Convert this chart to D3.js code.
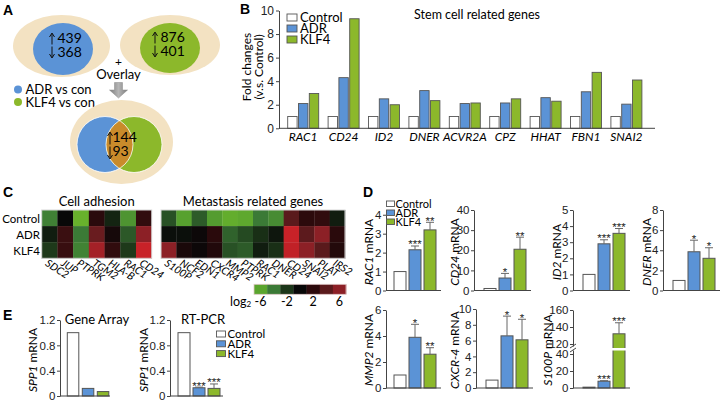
<!DOCTYPE html>
<html>
<head>
<meta charset="utf-8">
<script src="https://cdn.jsdelivr.net/npm/d3@7"></script>
<style>
body { margin: 0; background: #fff; }
svg { font-family: Lato, "Liberation Sans", Arial, sans-serif; }
</style>
</head>
<body>
<div id="chart"></div>
<script>
// shared
const groups = ["Control", "ADR", "KLF4"];
const colors = ["#ffffff", "#5b93d6", "#8cb82b"];

// A - venn counts
const vennLabels = ["ADR vs con", "KLF4 vs con"];
const vennUp = [439, 876, 144];
const vennDown = [368, 401, 93];

// B - stem cell genes (fold change vs control)
const stemGenes = ["RAC1", "CD24", "ID2", "DNER", "ACVR2A", "CPZ", "HHAT", "FBN1", "SNAI2"];
const stemControl = [1, 1, 1, 1, 1, 1, 1, 1, 1];
const stemADR = [2.1, 4.3, 2.5, 3.2, 2.1, 2.15, 2.6, 3.1, 2.05];
const stemKLF4 = [2.95, 9.3, 2.0, 2.35, 2.15, 2.5, 2.3, 4.75, 4.1];
const stemTicks = [0, 2, 4, 6, 8, 10];

// C - heatmaps (log2)
const heatRows = ["Control", "ADR", "KLF4"];
const adhesionGenes = ["SDC2", "JUP", "PTPRK", "TGM2", "HLA-B", "RAC1", "CD24"];
const adhesionLog2 = [
    [-4.3, 0, -6.8, 1.9, -1.2, -5.2, 2.2],
    [-0.9, 2.6, -4.0, 4.6, 0.8, -3.0, 6.0],
    [-2.1, 2.5, -4.4, 7.0, 2.2, -2.1, 8.5]
];
const metaGenes = ["S100P", "NCF2", "EDN1", "CXCR4", "MMP2", "PTPRK", "RAC1", "DNER", "CD24", "SNAI2", "PLAT", "IRS2"];
const metaLog2 = [
    [-2.8, -5.8, -3.1, -5.6, -6.5, -6.2, -4.0, -4.8, 4.0, 2.0, 2.2, -0.9],
    [-0.3, -0.3, 0.3, 1.9, -3.3, -2.6, -1.7, -0.6, 8.5, 4.1, 6.0, 1.9],
    [6.0, 1.0, 0.3, 1.4, -2.8, -3.1, -0.9, -1.7, 8.2, 6.0, 4.0, 1.5]
];
const legendSteps = [-6, -4, -2, 0, 2, 4, 6];
const legendLabels = [-6, -2, 2, 6];

// D - qPCR
const qGenes = ["RAC1", "CD24", "ID2", "DNER", "MMP2", "CXCR-4", "S100P"];
const qControl = [1, 1, 1, 1, 1, 1, 1];
const qADR = [2.15, 6.2, 2.9, 3.85, 3.9, 6.6, 8];
const qKLF4 = [3.2, 20.5, 3.55, 3.2, 2.6, 6.1, 132];
const qADRErr = [0.2, 2.3, 0.25, 1.15, 1.0, 2.5, 0.6];
const qKLF4Err = [0.4, 6, 0.3, 1.05, 0.5, 2.6, 13];
const qADRSig = ["***", "*", "***", "*", "*", "*", "***"];
const qKLF4Sig = ["**", "**", "***", "*", "**", "*", "***"];
const qTicks = [[0, 1, 2, 3, 4], [0, 10, 20, 30, 40], [0, 1, 2, 3, 4, 5], [0, 2, 4, 6, 8],
    [0, 2, 4, 6], [0, 2, 4, 6, 8, 10], [0, 20, 40, 120, 140, 160]];

// E - SPP1
const sppArray = [1, 0.12, 0.07];
const sppPCR = [1, 0.13, 0.12];
const sppPCRErr = [0, 0.01, 0.07];
const sppPCRSig = ["", "***", "***"];
const sppTicks = [0, 0.4, 0.8, 1.2];

const svg = d3.select("#chart").append("svg")
    .attr("width", 726).attr("height", 401);
svg.append("rect").attr("width", 726).attr("height", 401).attr("fill", "#fff");
const defs = svg.append("defs");

function panelLetter(t, x, y) {
    svg.append("text").attr("x", x).attr("y", y).attr("font-size", 14)
        .attr("font-weight", "bold").attr("font-family", "Liberation Sans, Arial, sans-serif").text(t);
}

// ---------- A ----------
panelLetter("A", 3, 15);
const beige = "#f3e2c2";
const gA = svg.append("g");

function vArrows(x, yTop, yBot) {
    const mid = (yTop + yBot) / 2;
    gA.append("path").attr("d", `M${x},${mid - 1}V${yTop + 1}M${x - 2.5},${yTop + 4}L${x},${yTop}L${x + 2.5},${yTop + 4}`)
        .attr("stroke", "#111").attr("fill", "none").attr("stroke-width", 1);
    gA.append("path").attr("d", `M${x},${mid + 1}V${yBot - 1}M${x - 2.5},${yBot - 4}L${x},${yBot}L${x + 2.5},${yBot - 4}`)
        .attr("stroke", "#111").attr("fill", "none").attr("stroke-width", 1);
}
function countText(x, y, up, down) {
    gA.append("text").attr("x", x).attr("y", y).attr("font-size", 14).text(up);
    gA.append("text").attr("x", x).attr("y", y + 14).attr("font-size", 14).text(down);
}

gA.append("ellipse").attr("cx", 61.5).attr("cy", 46).attr("rx", 48.5).attr("ry", 31).attr("fill", beige);
gA.append("ellipse").attr("cx", 63).attr("cy", 49).attr("rx", 30).attr("ry", 26).attr("fill", colors[1]);
vArrows(52, 33, 58);
countText(57.5, 43, vennUp[0], vennDown[0]);

gA.append("ellipse").attr("cx", 170).attr("cy", 45).attr("rx", 50).attr("ry", 30).attr("fill", beige);
gA.append("ellipse").attr("cx", 170).attr("cy", 48).attr("rx", 30).attr("ry", 25).attr("fill", colors[2]);
vArrows(155, 32, 57);
countText(160.5, 42, vennUp[1], vennDown[1]);

gA.append("text").attr("x", 118.5).attr("y", 66).attr("text-anchor", "middle").attr("font-size", 12).text("+");
gA.append("text").attr("x", 118.5).attr("y", 79).attr("text-anchor", "middle").attr("font-size", 13).text("Overlay");

const grad = defs.append("linearGradient").attr("id", "arrowGrad")
    .attr("x1", 0).attr("x2", 1).attr("y1", 0).attr("y2", 0);
grad.append("stop").attr("offset", "0%").attr("stop-color", "#7d7d7d");
grad.append("stop").attr("offset", "50%").attr("stop-color", "#b5b5b5");
grad.append("stop").attr("offset", "100%").attr("stop-color", "#7d7d7d");
gA.append("path").attr("d", "M114.5,82.5H122.5V90H127.5L118.5,98L109.5,90H114.5Z")
    .attr("fill", "url(#arrowGrad)").attr("stroke", "#888").attr("stroke-width", 0.5);

vennLabels.forEach((t, i) => {
    gA.append("circle").attr("cx", 18).attr("cy", 89.5 + i * 12.5).attr("r", 4).attr("fill", colors[i + 1]);
    gA.append("text").attr("x", 25.5).attr("y", 94 + i * 12.5).attr("font-size", 13).text(t);
});

gA.append("ellipse").attr("cx", 121.5).attr("cy", 142).attr("rx", 51.5).attr("ry", 42).attr("fill", beige);
defs.append("clipPath").attr("id", "clipBlue")
    .append("circle").attr("cx", 105).attr("cy", 144.5).attr("r", 28);
gA.append("circle").attr("cx", 105).attr("cy", 144.5).attr("r", 28).attr("fill", colors[1]);
gA.append("circle").attr("cx", 134).attr("cy", 144.5).attr("r", 28).attr("fill", colors[2]);
gA.append("circle").attr("cx", 134).attr("cy", 144.5).attr("r", 28).attr("fill", "#c98b2b")
    .attr("clip-path", "url(#clipBlue)");
gA.append("circle").attr("cx", 105).attr("cy", 144.5).attr("r", 28).attr("fill", "none").attr("stroke", "#fff").attr("stroke-width", 0.8);
gA.append("circle").attr("cx", 134).attr("cy", 144.5).attr("r", 28).attr("fill", "none").attr("stroke", "#fff").attr("stroke-width", 0.8);
vArrows(110, 132, 159);
countText(112.5, 142, vennUp[2], vennDown[2]);

// ---------- B ----------
panelLetter("B", 240, 14);
const gB = svg.append("g");
const bx = d3.scaleBand().domain(stemGenes).range([283, 646.6]);
const bx1 = d3.scaleBand().domain(groups)
    .range([bx.bandwidth() / 2 - 15.5, bx.bandwidth() / 2 + 15.5]).paddingInner(0.13);
const by = d3.scaleLinear().domain([0, 10]).range([128.3, 10.5]);
const stemSeries = [stemControl, stemADR, stemKLF4];

stemSeries.forEach((vals, s) => {
    gB.selectAll(null).data(vals).join("rect")
        .attr("x", (d, i) => bx(stemGenes[i]) + bx1(groups[s]))
        .attr("y", d => by(d))
        .attr("width", bx1.bandwidth())
        .attr("height", d => by(0) - by(d))
        .attr("fill", colors[s]).attr("stroke", "#555").attr("stroke-width", 0.9);
});
const bAxis = gB.append("g").attr("transform", "translate(279,0)")
    .call(d3.axisLeft(by).tickValues(stemTicks).tickSize(3).tickPadding(2).tickSizeOuter(0));
bAxis.selectAll("text").attr("font-size", 12).attr("fill", "#222").attr("font-family", null);
bAxis.selectAll("line,path").attr("stroke", "#444");
gB.append("line").attr("x1", 279).attr("x2", 655).attr("y1", 128.3).attr("y2", 128.3).attr("stroke", "#444");
gB.selectAll(null).data(stemGenes).join("text")
    .attr("x", d => bx(d) + bx.bandwidth() / 2).attr("y", 141)
    .attr("text-anchor", "middle").attr("font-size", 12).attr("font-style", "italic").text(d => d);
gB.append("text").attr("transform", "translate(251,67) rotate(-90)").attr("text-anchor", "middle")
    .attr("font-size", 12).text("Fold changes");
gB.append("text").attr("transform", "translate(262.5,67) rotate(-90)").attr("text-anchor", "middle")
    .attr("font-size", 12).text("(v.s. Control)");
gB.append("text").attr("x", 477).attr("y", 19).attr("text-anchor", "middle").attr("font-size", 12.5)
    .text("Stem cell related genes");
groups.forEach((g, i) => {
    gB.append("rect").attr("x", 287).attr("y", 14 + i * 11).attr("width", 10).attr("height", 7)
        .attr("fill", colors[i]).attr("stroke", "#555").attr("stroke-width", 0.9);
    gB.append("text").attr("x", 300).attr("y", 21.5 + i * 11).attr("font-size", 13).text(g);
});

// ---------- C ----------
panelLetter("C", 3, 197);
const gC = svg.append("g");
const heatColor = d3.scaleLinear()
    .domain([-7, -6, -4, -2, 0, 2, 4, 6, 9])
    .range(["#6cb52c", "#5aa52e", "#3b7a36", "#1c3619", "#080808", "#2c0a0c", "#5a1a1c", "#8c2026", "#d42228"])
    .clamp(true);

function heatmap(genes, vals, x0, x1, title) {
    const hx = d3.scaleBand().domain(genes).range([x0, x1]);
    const hy = d3.scaleBand().domain(heatRows).range([210, 258.3]);
    vals.forEach((row, r) => {
        gC.selectAll(null).data(row).join("rect")
            .attr("x", (d, i) => hx(genes[i])).attr("y", hy(heatRows[r]))
            .attr("width", hx.bandwidth() + 0.3).attr("height", hy.bandwidth() + 0.3)
            .attr("fill", d => heatColor(d));
    });
    gC.append("rect").attr("x", x0).attr("y", 210).attr("width", x1 - x0).attr("height", 48.3)
        .attr("fill", "none").attr("stroke", "#d8d8d8").attr("stroke-width", 1);
    gC.selectAll(null).data(genes).join("text")
        .attr("transform", d => `translate(${hx(d) + hx.bandwidth() / 2 - 5},${265}) rotate(33)`)
        .attr("font-size", 10.5).attr("font-style", "italic").text(d => d);
    gC.append("text").attr("x", (x0 + x1) / 2).attr("y", 206).attr("text-anchor", "middle")
        .attr("font-size", 13).text(title);
    return hy;
}
const hy = heatmap(adhesionGenes, adhesionLog2, 41.7, 151.7, "Cell adhesion");
heatmap(metaGenes, metaLog2, 161, 345, "Metastasis related genes");
heatRows.forEach(r => {
    gC.append("text").attr("x", 40).attr("y", hy(r) + hy.bandwidth() / 2 + 4.5)
        .attr("text-anchor", "end").attr("font-size", 11.5).text(r);
});
const lx = d3.scaleBand().domain(legendSteps).range([254, 346]);
gC.selectAll(null).data(legendSteps).join("rect")
    .attr("x", d => lx(d)).attr("y", 284.3).attr("width", lx.bandwidth() + 0.3).attr("height", 10)
    .attr("fill", d => heatColor(d));
gC.append("rect").attr("x", 254).attr("y", 284.3).attr("width", 92).attr("height", 10)
    .attr("fill", "none").attr("stroke", "#e0c8c8").attr("stroke-width", 0.8);
gC.selectAll(null).data(legendLabels).join("text")
    .attr("x", d => lx(d) + lx.bandwidth() / 2).attr("y", 306).attr("text-anchor", "middle")
    .attr("font-size", 12.5).text(d => d);
const logT = gC.append("text").attr("x", 230).attr("y", 306).attr("font-size", 12.5);
logT.append("tspan").text("log");
logT.append("tspan").attr("font-size", 8).attr("dy", 1).text("2");

// ---------- bar subplot helper (D and E) ----------
function barPlot(opt) {
    const g = svg.append("g");
    const y = opt.y;
    const vals = opt.values;
    g.selectAll(null).data(vals).join("rect")
        .attr("x", (d, i) => opt.x0 + i * opt.step).attr("y", d => y(d))
        .attr("width", opt.bw).attr("height", d => y(0) - y(d))
        .attr("fill", (d, i) => colors[i]).attr("stroke", "#555").attr("stroke-width", 1);
    if (opt.errs) {
        vals.forEach((d, i) => {
            if (!opt.errs[i]) return;
            const cx = opt.x0 + i * opt.step + opt.bw / 2;
            const top = y(d + opt.errs[i]);
            g.append("path").attr("d", `M${cx},${y(d)}V${top}M${cx - 4},${top}H${cx + 4}`)
                .attr("stroke", "#666").attr("stroke-width", 1).attr("fill", "none");
            if (opt.sigs && opt.sigs[i]) {
                g.append("text").attr("x", cx).attr("y", top + 2.5).attr("text-anchor", "middle")
                    .attr("font-family", "Liberation Sans, Arial, sans-serif")
                    .attr("font-size", 11.5).attr("fill", "#222").text(opt.sigs[i]);
            }
        });
    }
    const ax = g.append("g").attr("transform", `translate(${opt.ax},0)`)
        .call(d3.axisLeft(y).tickValues(opt.ticks).tickSize(3).tickPadding(1.5).tickSizeOuter(0)
            .tickFormat(opt.fmt || (d => d)));
    ax.selectAll("text").attr("font-size", 11.5).attr("fill", "#222").attr("font-family", null);
    ax.selectAll("line,path").attr("stroke", "#444");
    g.append("line").attr("x1", opt.ax).attr("x2", opt.end).attr("y1", y(0)).attr("y2", y(0))
        .attr("stroke", "#444");
    const lab = g.append("text")
        .attr("transform", `translate(${opt.labX},${opt.labY}) rotate(-90)`)
        .attr("text-anchor", "middle").attr("font-size", 12);
    lab.append("tspan").attr("font-style", "italic").text(opt.gene);
    lab.append("tspan").text(" mRNA");
    return g;
}

// ---------- D ----------
panelLetter("D", 363, 197);
const dLayout = [
    { ax: 386, base: 290.5, top: 210, max: 4.25, labX: 373, labY: 252 },
    { ax: 474, base: 290.5, top: 210, max: 40, labX: 459, labY: 252 },
    { ax: 573, base: 290.5, top: 210, max: 5, labX: 561, labY: 252 },
    { ax: 663, base: 290.5, top: 210, max: 8, labX: 651, labY: 252 },
    { ax: 386, base: 388, top: 310, max: 6, labX: 373, labY: 350 },
    { ax: 476, base: 388, top: 309, max: 10, labX: 459, labY: 350 },
    { ax: 573, base: 388, top: 310, max: 160, labX: 552, labY: 350 }
];
qGenes.forEach((gene, i) => {
    const L = dLayout[i];
    const y = gene === "S100P"
        ? d3.scaleLinear().domain([0, 40, 120, 160]).range([388, 354, 344, 310])
        : d3.scaleLinear().domain([0, L.max]).range([L.base, L.top]);
    const x0 = L.ax === 386 ? 394 : L.ax + 10;
    const g = barPlot({
        y: y, values: [qControl[i], qADR[i], qKLF4[i]],
        errs: [0, qADRErr[i], qKLF4Err[i]], sigs: ["", qADRSig[i], qKLF4Sig[i]],
        x0: x0, bw: 12, step: 15, end: x0 + 47,
        ax: L.ax, ticks: qTicks[i], gene: gene, labX: L.labX, labY: L.labY
    });
    if (gene === "S100P") {
        // axis break
        g.append("rect").attr("x", x0 - 1).attr("y", 348).attr("width", 50).attr("height", 2.5).attr("fill", "#fff");
        g.append("rect").attr("x", L.ax - 1.5).attr("y", 346.5).attr("width", 3).attr("height", 4).attr("fill", "#fff");
        g.append("path").attr("d", `M${L.ax - 3},${348}L${L.ax + 3},${344}M${L.ax - 3},${352}L${L.ax + 3},${348}`)
            .attr("stroke", "#444").attr("stroke-width", 1);
    }
});
groups.forEach((g, i) => {
    svg.append("rect").attr("x", 386.5).attr("y", 201 + i * 9).attr("width", 8).attr("height", 5.5)
        .attr("fill", colors[i]).attr("stroke", "#555").attr("stroke-width", 0.9);
    svg.append("text").attr("x", 395.5).attr("y", 207.5 + i * 9).attr("font-size", 11).text(g);
});

// ---------- E ----------
panelLetter("E", 3, 320);
const ey = d3.scaleLinear().domain([0, 1.2]).range([396, 320]);
const efmt = d => d === 0 ? "0" : d3.format(".1f")(d);
barPlot({
    y: ey, values: sppArray, x0: 67.3, bw: 11.5, step: 15, end: 110,
    ax: 60, ticks: sppTicks, fmt: efmt, gene: "SPP1", labX: 37, labY: 360
});
barPlot({
    y: ey, values: sppPCR, errs: sppPCRErr, sigs: sppPCRSig, x0: 178, bw: 12, step: 15, end: 223,
    ax: 170, ticks: sppTicks, fmt: efmt, gene: "SPP1", labX: 147.5, labY: 360
});
svg.append("text").attr("x", 97).attr("y", 324).attr("text-anchor", "middle").attr("font-size", 13).text("Gene Array");
svg.append("text").attr("x", 203).attr("y", 324).attr("text-anchor", "middle").attr("font-size", 13).text("RT-PCR");
groups.forEach((g, i) => {
    svg.append("rect").attr("x", 216.5).attr("y", 331 + i * 9.8).attr("width", 9).attr("height", 6)
        .attr("fill", colors[i]).attr("stroke", "#555").attr("stroke-width", 0.9);
    svg.append("text").attr("x", 227.5).attr("y", 338 + i * 9.8).attr("font-size", 11.5).text(g);
});
</script>
</body>
</html>
